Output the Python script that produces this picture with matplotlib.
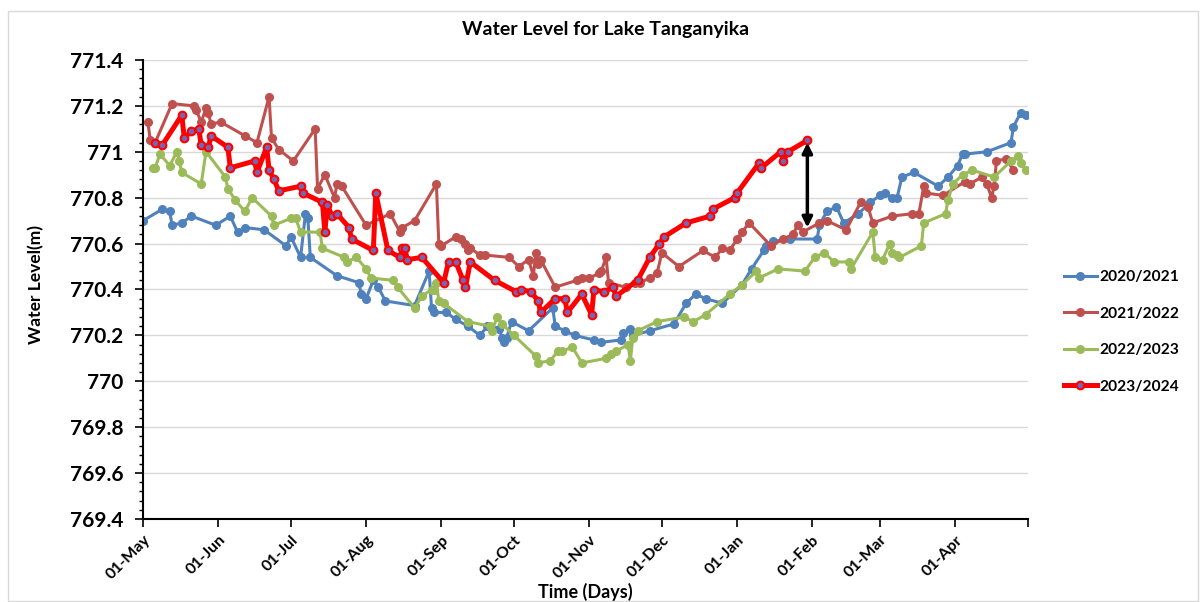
import matplotlib
matplotlib.use("Agg")
import matplotlib.pyplot as plt
from matplotlib.patches import Rectangle
from matplotlib.ticker import MultipleLocator, FuncFormatter

plt.rcParams['font.family'] = ['Lato', 'DejaVu Sans']

# days counted from 01-May of each season
month_days = [0, 31, 61, 92, 123, 153, 184, 214, 245, 276, 304, 335, 365]
month_labels = ['01-May', '01-Jun', '01-Jul', '01-Aug', '01-Sep', '01-Oct',
                '01-Nov', '01-Dec', '01-Jan', '01-Feb', '01-Mar', '01-Apr', '']

days_2020 = [0, 8, 11, 12, 16, 20, 30, 36, 39, 42, 50, 59, 61, 65, 67, 68, 69, 80,
             89, 90, 92, 95, 97, 100, 112, 118, 119, 120, 125, 129, 134, 139, 142,
             147, 148, 149, 150, 152, 159, 169, 170, 174, 178, 186, 189, 197, 198,
             201, 202, 209, 219, 224, 228, 232, 239, 247, 251, 256, 257, 260, 267,
             278, 279, 282, 286, 289, 295, 300, 304, 306, 309, 311, 313, 318, 328,
             332, 336, 338, 339, 348, 358, 359, 362, 364]
level_2020 = [770.70, 770.75, 770.74, 770.68, 770.69, 770.72, 770.68, 770.72, 770.65,
              770.67, 770.66, 770.59, 770.63, 770.54, 770.73, 770.71, 770.54, 770.46,
              770.43, 770.38, 770.36, 770.44, 770.41, 770.35, 770.33, 770.48, 770.32,
              770.30, 770.30, 770.27, 770.24, 770.20, 770.24, 770.23, 770.19, 770.17,
              770.19, 770.26, 770.22, 770.32, 770.24, 770.22, 770.20, 770.18, 770.17,
              770.18, 770.21, 770.23, 770.20, 770.22, 770.25, 770.34, 770.38, 770.36,
              770.34, 770.42, 770.49, 770.57, 770.59, 770.61, 770.62, 770.62, 770.68,
              770.74, 770.76, 770.69, 770.73, 770.78, 770.81, 770.82, 770.80, 770.80,
              770.89, 770.91, 770.85, 770.89, 770.94, 770.99, 770.99, 771.00, 771.04,
              771.11, 771.17, 771.16]

days_2021 = [2, 3, 5, 12, 21, 22, 24, 26, 27, 28, 32, 42, 47, 52, 53, 56, 62, 71, 72,
             75, 79, 80, 82, 92, 102, 106, 107, 112, 121, 122, 123, 129, 131, 133,
             134, 135, 139, 141, 151, 155, 159, 161, 162, 163, 164, 170, 179, 181,
             184, 188, 189, 191, 192, 199, 203, 205, 209, 212, 214, 221, 231, 236,
             239, 242, 245, 247, 250, 259, 264, 268, 270, 272, 279, 282, 290, 296,
             299, 301, 309, 317, 320, 322, 323, 330, 339, 341, 346, 348, 350, 351,
             352, 356, 359]
level_2021 = [771.13, 771.05, 771.04, 771.21, 771.20, 771.18, 771.13, 771.19, 771.17,
              771.12, 771.13, 771.07, 771.04, 771.24, 771.06, 771.01, 770.96, 771.10,
              770.84, 770.90, 770.80, 770.86, 770.85, 770.68, 770.73, 770.65, 770.67,
              770.70, 770.86, 770.60, 770.59, 770.63, 770.62, 770.60, 770.57, 770.58,
              770.55, 770.55, 770.54, 770.50, 770.53, 770.46, 770.56, 770.51, 770.53,
              770.41, 770.44, 770.45, 770.45, 770.47, 770.48, 770.54, 770.43, 770.41,
              770.43, 770.43, 770.45, 770.47, 770.56, 770.50, 770.57, 770.54, 770.58,
              770.57, 770.62, 770.65, 770.69, 770.59, 770.62, 770.64, 770.68, 770.65,
              770.69, 770.70, 770.66, 770.78, 770.76, 770.69, 770.72, 770.73, 770.73,
              770.85, 770.82, 770.81, 770.87, 770.86, 770.89, 770.86, 770.80, 770.85,
              770.96, 770.97, 770.92]

days_2022 = [4, 5, 7, 11, 14, 15, 16, 24, 26, 34, 35, 38, 42, 45, 53, 54, 61, 63, 65,
             73, 74, 83, 84, 88, 92, 94, 103, 105, 112, 115, 119, 120, 121, 122, 124,
             134, 143, 144, 146, 148, 153, 162, 163, 168, 171, 173, 177, 181, 191,
             193, 195, 200, 201, 202, 204, 212, 223, 227, 232, 242, 247, 253, 254,
             262, 273, 277, 281, 285, 291, 292, 301, 302, 305, 308, 309, 311, 312,
             321, 322, 331, 332, 334, 338, 342, 351, 358, 361, 362, 364]
level_2022 = [770.93, 770.93, 770.99, 770.94, 771.00, 770.96, 770.91, 770.86, 771.00,
              770.89, 770.84, 770.79, 770.74, 770.80, 770.72, 770.68, 770.71, 770.71,
              770.65, 770.65, 770.58, 770.54, 770.52, 770.54, 770.49, 770.45, 770.44,
              770.41, 770.32, 770.37, 770.40, 770.40, 770.43, 770.35, 770.34, 770.26,
              770.24, 770.22, 770.28, 770.25, 770.20, 770.11, 770.08, 770.09, 770.13,
              770.13, 770.15, 770.08, 770.10, 770.12, 770.13, 770.16, 770.09, 770.19,
              770.22, 770.26, 770.28, 770.26, 770.29, 770.38, 770.42, 770.48, 770.45,
              770.49, 770.48, 770.54, 770.56, 770.52, 770.52, 770.49, 770.65, 770.54,
              770.53, 770.60, 770.56, 770.55, 770.54, 770.59, 770.69, 770.73, 770.79,
              770.86, 770.90, 770.92, 770.89, 770.96, 770.98, 770.95, 770.92]

days_2023 = [5, 8, 16, 17, 20, 23, 24, 27, 28, 35, 36, 46, 47, 51, 52, 54, 56, 65, 66,
             74, 75, 76, 78, 80, 85, 86, 95, 96, 101, 106, 107, 108, 109, 115, 124,
             126, 129, 132, 133, 135, 145, 154, 156, 160, 163, 164, 170, 174, 175,
             181, 185, 186, 190, 194, 195, 204, 209, 213, 215, 224, 234, 235, 244,
             245, 254, 255, 263, 264, 266, 274]
level_2023 = [771.04, 771.03, 771.16, 771.06, 771.09, 771.10, 771.03, 771.02, 771.07,
              771.02, 770.93, 770.96, 770.91, 771.02, 770.92, 770.88, 770.83, 770.85,
              770.82, 770.78, 770.65, 770.77, 770.72, 770.73, 770.67, 770.62, 770.57,
              770.82, 770.57, 770.54, 770.58, 770.58, 770.53, 770.54, 770.43, 770.52,
              770.52, 770.44, 770.41, 770.52, 770.44, 770.39, 770.40, 770.39, 770.35,
              770.30, 770.36, 770.36, 770.30, 770.38, 770.29, 770.40, 770.39, 770.41,
              770.37, 770.44, 770.54, 770.60, 770.63, 770.69, 770.72, 770.75, 770.80,
              770.82, 770.95, 770.93, 771.00, 770.96, 771.00, 771.05]

# gap marker between the current season and the previous one
gap_day = 274
gap_top = 771.04
gap_bottom = 770.67

fig = plt.figure(figsize=(12.01, 6.02), dpi=100)
fig.patches.append(Rectangle((8 / 1201, 1 / 602), 1190 / 1201, 590 / 602,
                             transform=fig.transFigure, fill=False,
                             edgecolor='#d9d9d9', linewidth=1))
ax = fig.add_axes([143 / 1201, 1 - 519 / 602, 885 / 1201, 459 / 602])

ax.plot(days_2020, level_2020, '-o', color='#4F81BD', lw=2.2, ms=5.5, label='2020/2021')
ax.plot(days_2021, level_2021, '-o', color='#C0504D', lw=2.2, ms=5.5, label='2021/2022')
ax.plot(days_2022, level_2022, '-o', color='#9BBB59', lw=2.2, ms=5.5, label='2022/2023')
ax.plot(days_2023, level_2023, '-o', color='#FF0000', lw=3.6, ms=5.5,
        mfc='#7565B5', mec='#FF0000', mew=1.5, label='2023/2024')

ax.annotate('', xy=(gap_day, gap_bottom), xytext=(gap_day, gap_top),
            arrowprops=dict(arrowstyle='<|-|>', color='black', lw=2.5,
                            mutation_scale=15, shrinkA=0, shrinkB=0))

ax.set_xlim(0, 365)
ax.set_ylim(769.4, 771.4)
ax.set_xticks(month_days)
ax.set_xticklabels(month_labels, rotation=45, ha='right', rotation_mode='anchor',
                   fontsize=11.5, fontweight='bold')
ax.yaxis.set_major_locator(MultipleLocator(0.2))
ax.yaxis.set_minor_locator(MultipleLocator(0.04))
ax.yaxis.set_major_formatter(FuncFormatter(lambda v, p: f'{round(v, 1):g}'))
for lab in ax.get_yticklabels():
    lab.set_fontweight('bold')
ax.tick_params(axis='y', which='major', labelsize=15, length=6, width=1.2, pad=8)
ax.tick_params(axis='y', which='minor', length=3, width=1)
ax.tick_params(axis='x', which='major', length=6, width=1.2, pad=4)

ax.grid(axis='y', which='major', color='#d9d9d9', lw=1)
ax.set_axisbelow(True)
for s in ['top', 'right']:
    ax.spines[s].set_visible(False)
for s in ['left', 'bottom']:
    ax.spines[s].set_linewidth(1.5)

ax.set_ylabel('Water Level(m)', fontsize=12.5, fontweight='bold')
ax.yaxis.set_label_coords(-0.112, 0.51)
ax.set_xlabel('Time (Days)', fontsize=13, fontweight='bold')
ax.xaxis.set_label_coords(0.5, -0.14)

fig.text(606 / 1201, 1 - 30 / 602, 'Water Level for Lake Tanganyika',
         ha='center', va='center', fontsize=14, fontweight='bold')

ax.legend(loc='center left', bbox_to_anchor=(1050 / 1201, 1 - 332 / 602),
          bbox_transform=fig.transFigure, frameon=False, handlelength=2.1,
          labelspacing=1.45, handletextpad=0.15,
          prop={'weight': 'bold', 'size': 11.2})

fig.savefig('out.png', dpi=100)
